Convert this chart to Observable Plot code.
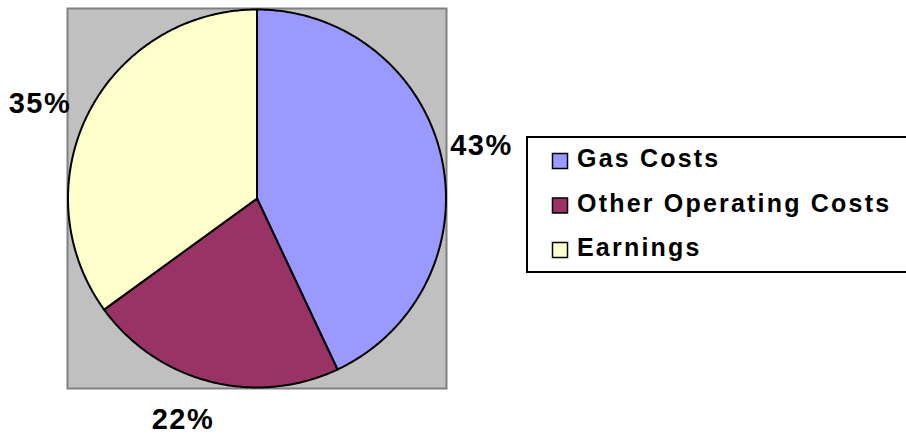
<!DOCTYPE html>
<html><head><meta charset="utf-8">
<script src="https://cdn.jsdelivr.net/npm/d3@7"></script>
<script src="https://cdn.jsdelivr.net/npm/@observablehq/plot@0.6"></script>
<style>
body{margin:0;background:#fff;}
#chart{position:relative;width:906px;height:434px;overflow:hidden;}
</style>
</head><body><div id="chart"></div>
<script>
// ---- data ----
const categories = ["Gas Costs", "Other Operating Costs", "Earnings"];
const values = [43, 22, 35];
const labels = ["43%", "22%", "35%"];
const colors = ["#9999FF", "#993366", "#FFFFCC"];

// ---- layout ----
const W = 906, H = 434;
const frame = {left: 67, right: 446, top: 8, bottom: 388};
const R = 189;
const hx = (frame.right - frame.left) / 2 / R;
const hy = (frame.bottom - frame.top) / 2 / R;
// pixel nudges (right, down) of each label from its slice's rim midpoint
const labelNudge = [[40, -2], [-27, 47], [-48.6, 0]];
const font = "'Liberation Sans', Arial, Helvetica, sans-serif";

const arcs = d3.pie().sort(null).value(d => d)(values);
const slicePts = [];
arcs.forEach((a, i) => {
  const n = Math.max(2, Math.ceil((a.endAngle - a.startAngle) / 0.01));
  slicePts.push({key: categories[i], x: 0, y: 0});
  for (let k = 0; k <= n; k++) {
    const t = a.startAngle + (a.endAngle - a.startAngle) * k / n;
    slicePts.push({key: categories[i], x: Math.sin(t), y: Math.cos(t)});
  }
});
const labelData = arcs.map((a, i) => {
  const m = (a.startAngle + a.endAngle) / 2;
  return {text: labels[i], x: Math.sin(m) + labelNudge[i][0] / R, y: Math.cos(m) - labelNudge[i][1] / R};
});

const chart = Plot.plot({
  width: W, height: H,
  marginLeft: frame.left, marginRight: W - frame.right,
  marginTop: frame.top, marginBottom: H - frame.bottom,
  x: {domain: [-hx, hx], axis: null},
  y: {domain: [-hy, hy], axis: null},
  color: {domain: categories, range: colors},
  style: {fontFamily: font, background: "white", overflow: "visible"},
  marks: [
    Plot.frame({fill: "#C0C0C0", stroke: "#808080", strokeWidth: 2}),
    Plot.line(slicePts, {x: "x", y: "y", z: "key", fill: "key", stroke: "black", strokeWidth: 2, curve: "linear-closed", strokeLinejoin: "round"}),
    Plot.text(labelData, {x: "x", y: "y", text: "text", fontSize: 29, fontWeight: "bold", textAnchor: "middle", lineAnchor: "bottom", fill: "black"})
  ]
});
document.getElementById("chart").appendChild(chart);

const svg = d3.select(chart);
svg.selectAll("text").style("letter-spacing", "1.5px");
const colorScale = chart.scale("color");
const lg = svg.append("g").attr("text-anchor", "start");
lg.append("rect").attr("x", 527).attr("y", 137).attr("width", 395).attr("height", 135)
  .attr("fill", "white").attr("stroke", "black").attr("stroke-width", 2);
categories.forEach((c, i) => {
  const yb = 167 + i * 44.5;
  lg.append("rect").attr("x", 552.5).attr("y", yb - 13.5).attr("width", 15).attr("height", 15)
    .attr("fill", colorScale.apply(c)).attr("stroke", "black").attr("stroke-width", 1.5);
  lg.append("text").attr("x", 577).attr("y", yb).text(c)
    .attr("text-anchor", "start")
    .attr("font-family", font).attr("font-size", 25).attr("font-weight", "bold")
    .attr("fill", "black").style("letter-spacing", "2.2px");
});
</script>
</body></html>
